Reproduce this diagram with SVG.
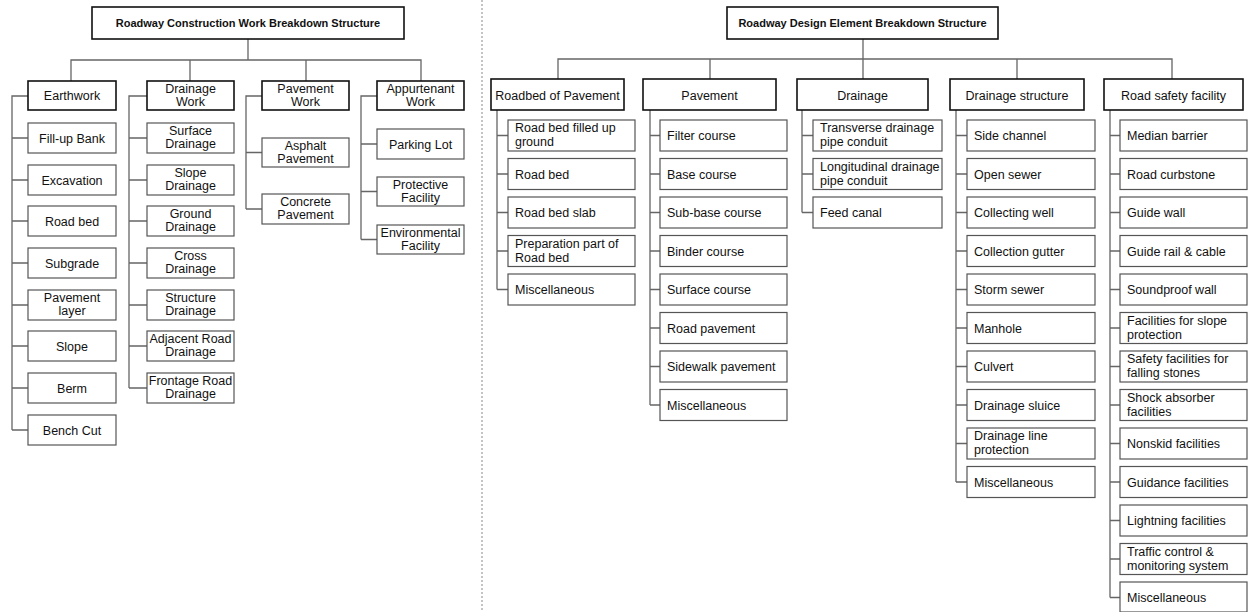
<svg xmlns="http://www.w3.org/2000/svg" width="1248" height="612" viewBox="0 0 1248 612">
<style>
text{font-family:"Liberation Sans",Arial,sans-serif;font-size:12.5px;fill:#111}
.ttl{font-weight:bold;font-size:11px;text-anchor:middle}
.m{text-anchor:middle}
.top{fill:#fff;stroke:#111;stroke-width:1.6}
.l2{fill:#fff;stroke:#111;stroke-width:1.6}
.c{fill:#fff;stroke:#555;stroke-width:1.2}
.conn path{fill:none;stroke:#666;stroke-width:1.3}
.sep{stroke:#888;stroke-width:1;stroke-dasharray:2 2}
</style>
<rect width="1248" height="612" fill="#fff"/>
<line class="sep" x1="482" y1="0" x2="482" y2="612"/>

<g id="connectors" class="conn">
<!-- left -->
<path d="M248,39V60M71,81V60H421V81M190,60V81M306,60V81"/>
<path d="M28,96H12V430M12,138H28M12,180H28M12,221H28M12,263H28M12,305H28M12,346H28M12,388H28M12,430H28"/>
<path d="M147,96H129V388M129,138H147M129,180H147M129,221H147M129,263H147M129,305H147M129,346H147M129,388H147"/>
<path d="M262,96H246V209M246,152.5H262M246,209H262"/>
<path d="M377,96H361V239.5M361,144H377M361,191.5H377M361,239.5H377"/>
<!-- right -->
<path d="M863,39V59M558,79V59H1172V79M710,59V79M863,59V79M1017,59V79"/>
<path d="M497,110V289.5M497,135.5H508M497,174H508M497,212.5H508M497,251H508M497,289.5H508"/>
<path d="M650,110V405M650,135.5H660M650,174H660M650,212.5H660M650,251H660M650,289.5H660M650,328H660M650,366.5H660M650,405H660"/>
<path d="M802,110V212.5M802,135.5H813M802,174H813M802,212.5H813"/>
<path d="M956,110V482M956,135.5H967M956,174H967M956,212.5H967M956,251H967M956,289.5H967M956,328H967M956,366.5H967M956,405H967M956,443.5H967M956,482H967"/>
<path d="M1110,110V597.5M1110,135.5H1120M1110,174H1120M1110,212.5H1120M1110,251H1120M1110,289.5H1120M1110,328H1120M1110,366.5H1120M1110,405H1120M1110,443.5H1120M1110,482H1120M1110,520.5H1120M1110,559H1120M1110,597.5H1120"/>
</g>

<!-- LEFT TREE -->
<g id="title-left"><rect class="top" x="92" y="7" width="312" height="32"/><text class="ttl" x="248" y="27">Roadway Construction Work Breakdown Structure</text></g>

<g id="earthwork"><rect class="l2" x="28" y="81" width="88" height="29"/><text class="m" x="72" y="100">Earthwork</text></g>
<g id="drainage-work"><rect class="l2" x="147" y="81" width="87" height="29"/><text class="m" x="190.5" y="92.5">Drainage</text><text class="m" x="190.5" y="106">Work</text></g>
<g id="pavement-work"><rect class="l2" x="262" y="81" width="87" height="29"/><text class="m" x="305.5" y="92.5">Pavement</text><text class="m" x="305.5" y="106">Work</text></g>
<g id="appurtenant-work"><rect class="l2" x="377" y="81" width="87" height="29"/><text class="m" x="420.5" y="92.5">Appurtenant</text><text class="m" x="420.5" y="106">Work</text></g>

<g id="fill-up-bank"><rect class="c" x="28" y="123" width="88" height="30"/><text class="m" x="72" y="142.5">Fill-up Bank</text></g>
<g id="excavation"><rect class="c" x="28" y="165" width="88" height="30"/><text class="m" x="72" y="184.5">Excavation</text></g>
<g id="road-bed-l"><rect class="c" x="28" y="206" width="88" height="30"/><text class="m" x="72" y="225.5">Road bed</text></g>
<g id="subgrade"><rect class="c" x="28" y="248" width="88" height="30"/><text class="m" x="72" y="267.5">Subgrade</text></g>
<g id="pavement-layer"><rect class="c" x="28" y="290" width="88" height="30"/><text class="m" x="72" y="302">Pavement</text><text class="m" x="72" y="315">layer</text></g>
<g id="slope"><rect class="c" x="28" y="331" width="88" height="30"/><text class="m" x="72" y="350.5">Slope</text></g>
<g id="berm"><rect class="c" x="28" y="373" width="88" height="30"/><text class="m" x="72" y="392.5">Berm</text></g>
<g id="bench-cut"><rect class="c" x="28" y="415" width="88" height="30"/><text class="m" x="72" y="434.5">Bench Cut</text></g>

<g id="surface-drainage"><rect class="c" x="147" y="123" width="87" height="30"/><text class="m" x="190.5" y="135">Surface</text><text class="m" x="190.5" y="148">Drainage</text></g>
<g id="slope-drainage"><rect class="c" x="147" y="165" width="87" height="30"/><text class="m" x="190.5" y="177">Slope</text><text class="m" x="190.5" y="190">Drainage</text></g>
<g id="ground-drainage"><rect class="c" x="147" y="206" width="87" height="30"/><text class="m" x="190.5" y="218">Ground</text><text class="m" x="190.5" y="231">Drainage</text></g>
<g id="cross-drainage"><rect class="c" x="147" y="248" width="87" height="30"/><text class="m" x="190.5" y="260">Cross</text><text class="m" x="190.5" y="273">Drainage</text></g>
<g id="structure-drainage"><rect class="c" x="147" y="290" width="87" height="30"/><text class="m" x="190.5" y="302">Structure</text><text class="m" x="190.5" y="315">Drainage</text></g>
<g id="adjacent-road-drainage"><rect class="c" x="147" y="331" width="87" height="30"/><text class="m" x="190.5" y="343">Adjacent Road</text><text class="m" x="190.5" y="356">Drainage</text></g>
<g id="frontage-road-drainage"><rect class="c" x="147" y="373" width="87" height="30"/><text class="m" x="190.5" y="385">Frontage Road</text><text class="m" x="190.5" y="398">Drainage</text></g>

<g id="asphalt-pavement"><rect class="c" x="262" y="138" width="87" height="29"/><text class="m" x="305.5" y="149.5">Asphalt</text><text class="m" x="305.5" y="162.5">Pavement</text></g>
<g id="concrete-pavement"><rect class="c" x="262" y="194" width="87" height="30"/><text class="m" x="305.5" y="206">Concrete</text><text class="m" x="305.5" y="219">Pavement</text></g>

<g id="parking-lot"><rect class="c" x="377" y="129" width="87" height="30"/><text class="m" x="420.5" y="148.5">Parking Lot</text></g>
<g id="protective-facility"><rect class="c" x="377" y="177" width="87" height="29"/><text class="m" x="420.5" y="188.5">Protective</text><text class="m" x="420.5" y="201.5">Facility</text></g>
<g id="environmental-facility"><rect class="c" x="377" y="225" width="87" height="29"/><text class="m" x="420.5" y="236.5">Environmental</text><text class="m" x="420.5" y="249.5">Facility</text></g>

<!-- RIGHT TREE -->
<g id="title-right"><rect class="top" x="727" y="7" width="271" height="32"/><text class="ttl" x="862.5" y="27">Roadway Design Element Breakdown Structure</text></g>

<g id="roadbed-of-pavement"><rect class="l2" x="491" y="79" width="133" height="31"/><text class="m" x="557.5" y="99.5">Roadbed of Pavement</text></g>
<g id="pavement"><rect class="l2" x="643" y="79" width="133" height="31"/><text class="m" x="709.5" y="99.5">Pavement</text></g>
<g id="drainage"><rect class="l2" x="797" y="79" width="131" height="31"/><text class="m" x="862.5" y="99.5">Drainage</text></g>
<g id="drainage-structure"><rect class="l2" x="950" y="79" width="134" height="31"/><text class="m" x="1017" y="99.5">Drainage structure</text></g>
<g id="road-safety-facility"><rect class="l2" x="1104" y="79" width="139" height="31"/><text class="m" x="1173.5" y="99.5">Road safety facility</text></g>

<g id="road-bed-filled-up-ground"><rect class="c" x="508" y="120" width="127" height="31"/><text x="515" y="132">Road bed filled up</text><text x="515" y="146">ground</text></g>
<g id="road-bed-r"><rect class="c" x="508" y="158.5" width="127" height="31"/><text x="515" y="178.5">Road bed</text></g>
<g id="road-bed-slab"><rect class="c" x="508" y="197" width="127" height="31"/><text x="515" y="217">Road bed slab</text></g>
<g id="preparation-part"><rect class="c" x="508" y="235.5" width="127" height="31"/><text x="515" y="247.5">Preparation part of</text><text x="515" y="261.5">Road bed</text></g>
<g id="misc-roadbed"><rect class="c" x="508" y="274" width="127" height="31"/><text x="515" y="294">Miscellaneous</text></g>

<g id="filter-course"><rect class="c" x="660" y="120" width="127" height="31"/><text x="667" y="140">Filter course</text></g>
<g id="base-course"><rect class="c" x="660" y="158.5" width="127" height="31"/><text x="667" y="178.5">Base course</text></g>
<g id="sub-base-course"><rect class="c" x="660" y="197" width="127" height="31"/><text x="667" y="217">Sub-base course</text></g>
<g id="binder-course"><rect class="c" x="660" y="235.5" width="127" height="31"/><text x="667" y="255.5">Binder course</text></g>
<g id="surface-course"><rect class="c" x="660" y="274" width="127" height="31"/><text x="667" y="294">Surface course</text></g>
<g id="road-pavement"><rect class="c" x="660" y="312.5" width="127" height="31"/><text x="667" y="332.5">Road pavement</text></g>
<g id="sidewalk-pavement"><rect class="c" x="660" y="351" width="127" height="31"/><text x="667" y="371">Sidewalk pavement</text></g>
<g id="misc-pavement"><rect class="c" x="660" y="389.5" width="127" height="31"/><text x="667" y="409.5">Miscellaneous</text></g>

<g id="transverse-drainage"><rect class="c" x="813" y="120" width="129" height="31"/><text x="820" y="132">Transverse drainage</text><text x="820" y="146">pipe conduit</text></g>
<g id="longitudinal-drainage"><rect class="c" x="813" y="158.5" width="129" height="31"/><text x="820" y="170.5">Longitudinal drainage</text><text x="820" y="184.5">pipe conduit</text></g>
<g id="feed-canal"><rect class="c" x="813" y="197" width="129" height="31"/><text x="820" y="217">Feed canal</text></g>

<g id="side-channel"><rect class="c" x="967" y="120" width="128" height="31"/><text x="974" y="140">Side channel</text></g>
<g id="open-sewer"><rect class="c" x="967" y="158.5" width="128" height="31"/><text x="974" y="178.5">Open sewer</text></g>
<g id="collecting-well"><rect class="c" x="967" y="197" width="128" height="31"/><text x="974" y="217">Collecting well</text></g>
<g id="collection-gutter"><rect class="c" x="967" y="235.5" width="128" height="31"/><text x="974" y="255.5">Collection gutter</text></g>
<g id="storm-sewer"><rect class="c" x="967" y="274" width="128" height="31"/><text x="974" y="294">Storm sewer</text></g>
<g id="manhole"><rect class="c" x="967" y="312.5" width="128" height="31"/><text x="974" y="332.5">Manhole</text></g>
<g id="culvert"><rect class="c" x="967" y="351" width="128" height="31"/><text x="974" y="371">Culvert</text></g>
<g id="drainage-sluice"><rect class="c" x="967" y="389.5" width="128" height="31"/><text x="974" y="409.5">Drainage sluice</text></g>
<g id="drainage-line-protection"><rect class="c" x="967" y="428" width="128" height="31"/><text x="974" y="440">Drainage line</text><text x="974" y="454">protection</text></g>
<g id="misc-ds"><rect class="c" x="967" y="466.5" width="128" height="31"/><text x="974" y="486.5">Miscellaneous</text></g>

<g id="median-barrier"><rect class="c" x="1120" y="120" width="127" height="31"/><text x="1127" y="140">Median barrier</text></g>
<g id="road-curbstone"><rect class="c" x="1120" y="158.5" width="127" height="31"/><text x="1127" y="178.5">Road curbstone</text></g>
<g id="guide-wall"><rect class="c" x="1120" y="197" width="127" height="31"/><text x="1127" y="217">Guide wall</text></g>
<g id="guide-rail"><rect class="c" x="1120" y="235.5" width="127" height="31"/><text x="1127" y="255.5">Guide rail &amp; cable</text></g>
<g id="soundproof-wall"><rect class="c" x="1120" y="274" width="127" height="31"/><text x="1127" y="294">Soundproof wall</text></g>
<g id="slope-protection"><rect class="c" x="1120" y="312.5" width="127" height="31"/><text x="1127" y="324.5">Facilities for slope</text><text x="1127" y="338.5">protection</text></g>
<g id="falling-stones"><rect class="c" x="1120" y="351" width="127" height="31"/><text x="1127" y="363">Safety facilities for</text><text x="1127" y="377">falling stones</text></g>
<g id="shock-absorber"><rect class="c" x="1120" y="389.5" width="127" height="31"/><text x="1127" y="401.5">Shock absorber</text><text x="1127" y="415.5">facilities</text></g>
<g id="nonskid"><rect class="c" x="1120" y="428" width="127" height="31"/><text x="1127" y="448">Nonskid facilities</text></g>
<g id="guidance"><rect class="c" x="1120" y="466.5" width="127" height="31"/><text x="1127" y="486.5">Guidance facilities</text></g>
<g id="lightning"><rect class="c" x="1120" y="505" width="127" height="31"/><text x="1127" y="525">Lightning facilities</text></g>
<g id="traffic-control"><rect class="c" x="1120" y="543.5" width="127" height="31"/><text x="1127" y="555.5">Traffic control &amp;</text><text x="1127" y="569.5">monitoring system</text></g>
<g id="misc-rs"><rect class="c" x="1120" y="582" width="127" height="30"/><text x="1127" y="602">Miscellaneous</text></g>
</svg>
